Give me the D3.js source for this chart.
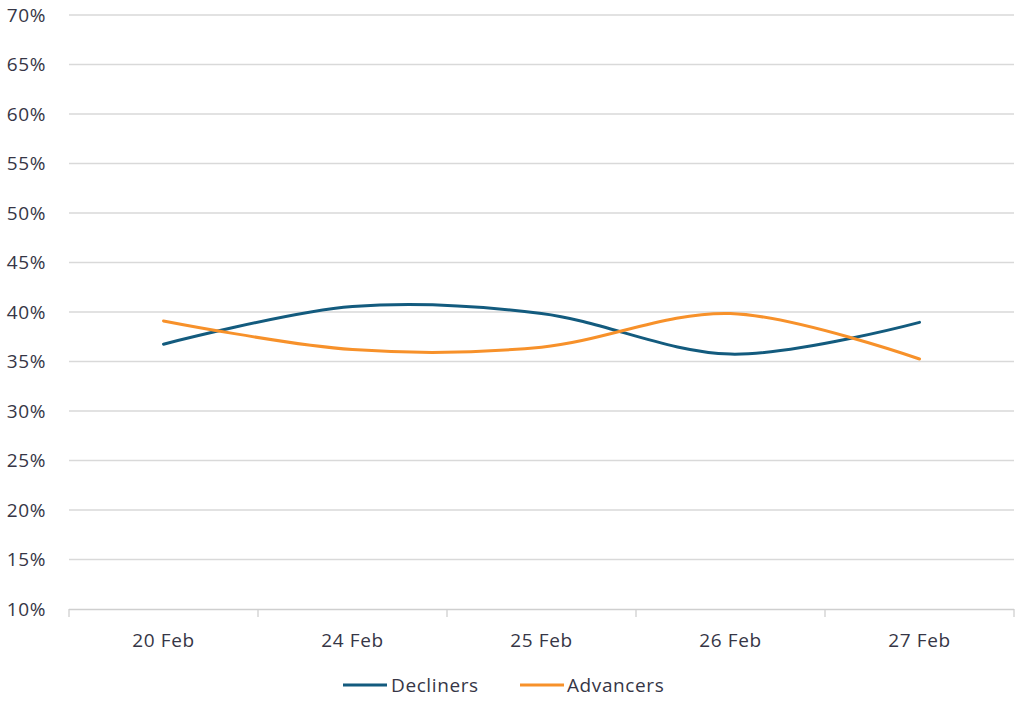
<!DOCTYPE html>
<html><head><meta charset="utf-8">
<script src="https://cdn.jsdelivr.net/npm/d3@7"></script>
<style>body{margin:0;background:#fff;} text{font-family:"Open Sans",sans-serif;fill:#363646;letter-spacing:0.6px;}</style>
</head><body><svg id="c" width="1024" height="714"></svg>
<script>
const categories = ["20 Feb","24 Feb","25 Feb","26 Feb","27 Feb"];
const decliners = [36.75, 40.55, 39.85, 35.75, 38.95];
const advancers = [39.1, 36.2, 36.45, 39.85, 35.25];
const yTicks = [10,15,20,25,30,35,40,45,50,55,60,65,70];
const seriesNames = ["Decliners","Advancers"];
const colors = ["#135b7e","#f7912a"];

const svg = d3.select("#c");
const mLeft = 69, mRight = 1014, mTop = 15, mBottom = 609;
const x = d3.scaleBand().domain(categories).range([mLeft, mRight]);
const y = d3.scaleLinear().domain([10,70]).range([mBottom, mTop]);
const fs = 19;

// gridlines
svg.append("g").selectAll("line").data(yTicks.filter(d=>d>10)).join("line")
  .attr("x1", mLeft).attr("x2", mRight)
  .attr("y1", d=>y(d)).attr("y2", d=>y(d))
  .attr("stroke","#d9d9d9").attr("stroke-width",1.3);

// y labels
svg.append("g").selectAll("text").data(yTicks).join("text")
  .attr("x", 46).attr("y", d=>y(d)).attr("dy","0.35em")
  .attr("text-anchor","end").attr("font-size",fs)
  .text(d=>d+"%");

// x axis
const xa = svg.append("g");
xa.append("line").attr("x1",mLeft).attr("x2",mRight).attr("y1",mBottom+0.5).attr("y2",mBottom+0.5)
  .attr("stroke","#cfcfcf").attr("stroke-width",1.3);
const bounds = categories.map(c=>x(c)).concat([mRight]);
xa.selectAll("line.t").data(bounds).join("line").attr("class","t")
  .attr("x1",d=>d).attr("x2",d=>d).attr("y1",mBottom).attr("y2",mBottom+8)
  .attr("stroke","#cfcfcf").attr("stroke-width",1.3);
xa.selectAll("text").data(categories).join("text")
  .attr("x",d=>x(d)+x.bandwidth()/2).attr("y",647)
  .attr("text-anchor","middle").attr("font-size",fs).text(d=>d);

// lines
const line = d3.line().x((d,i)=>x(categories[i])+x.bandwidth()/2).y(d=>y(d)).curve(d3.curveCatmullRom.alpha(0));
[decliners, advancers].forEach((s,i)=>{
  svg.append("path").datum(s).attr("d",line).attr("fill","none")
    .attr("stroke",colors[i]).attr("stroke-width",3).attr("stroke-linecap","round");
});

// legend
const leg = [{x:343, tx:391},{x:520, tx:567}];
seriesNames.forEach((n,i)=>{
  svg.append("line").attr("x1",leg[i].x).attr("x2",leg[i].x+44).attr("y1",685).attr("y2",685)
    .attr("stroke",colors[i]).attr("stroke-width",3);
  svg.append("text").attr("x",leg[i].tx).attr("y",685).attr("dy","0.35em")
    .attr("font-size",fs).text(n);
});
</script></body></html>
